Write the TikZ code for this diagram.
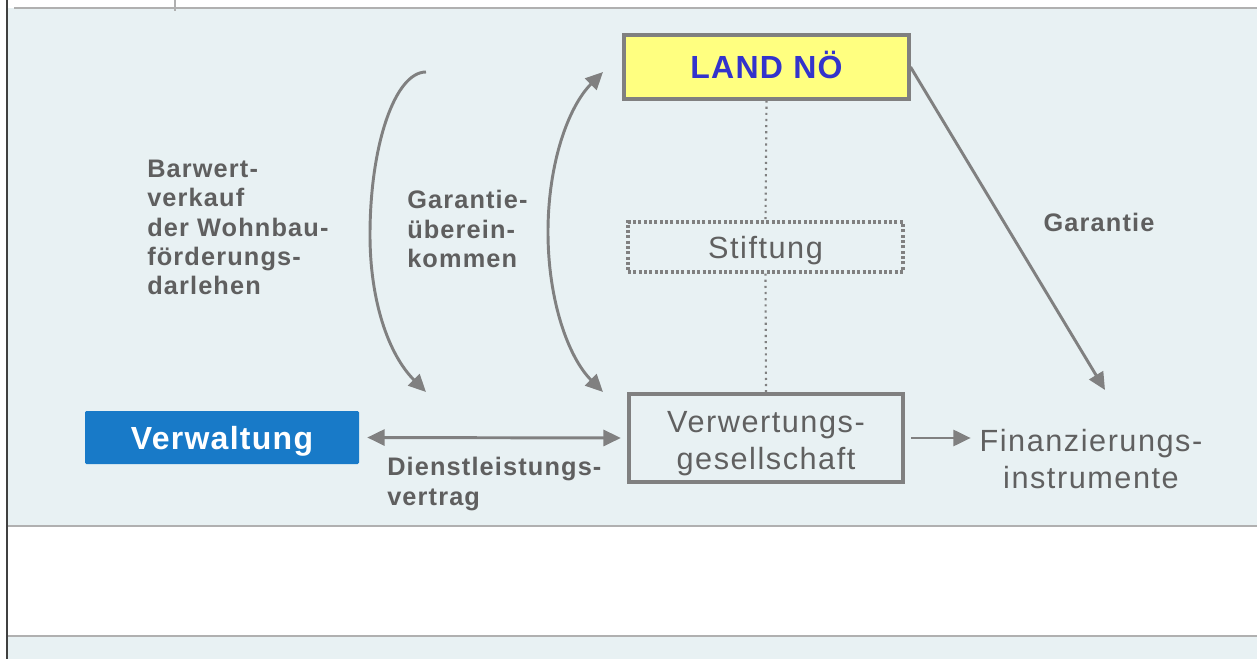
\documentclass[tikz,border=0pt]{standalone}
\usepackage{fontspec}
\setmainfont{Liberation Sans}
\newfontfamily\lblfont[LetterSpace=4.5]{Liberation Sans}
\newfontfamily\regfont[LetterSpace=5]{Liberation Sans}
\newfontfamily\headfont[LetterSpace=4]{Liberation Sans}
\usetikzlibrary{arrows.meta}
\definecolor{bgc}{RGB}{232,241,243}
\definecolor{framec}{RGB}{176,176,176}
\definecolor{leftc}{RGB}{64,64,64}
\definecolor{arrc}{RGB}{128,128,128}
\definecolor{lblc}{RGB}{95,95,95}
\definecolor{regc}{RGB}{96,96,96}
\definecolor{bluebox}{RGB}{24,122,200}
\definecolor{yelbox}{RGB}{255,255,128}
\definecolor{landtxt}{RGB}{51,51,204}
\tikzset{
  lbl/.style={inner sep=0pt, align=left, text=lblc, font=\lblfont\bfseries\fontsize{19}{22}\selectfont},
  regtxt/.style={inner sep=0pt, align=center, text=regc, font=\regfont\fontsize{23}{27.75}\selectfont},
  graybox/.style={draw=arrc, line width=2.3pt, inner sep=0pt},
  conn/.style={draw=arrc, line width=2.2pt},
  tip/.style={-{Triangle[length=13pt,width=12pt]}},
  dtip/.style={{Triangle[length=13pt,width=12pt]}-{Triangle[length=13pt,width=12pt]}},
  dotc/.style={draw=arrc, line width=1.6pt, dash pattern=on 1.6pt off 3pt},
}
\begin{document}
\begin{tikzpicture}[x=0.75pt,y=-0.75pt]
\useasboundingbox (0,0) rectangle (1257,659);
% background
\fill[white] (0,0) rectangle (1257,659);
\fill[bgc] (8,8) rectangle (1257,526);
\fill[bgc] (8,637) rectangle (1257,659);
\draw[framec, line width=1.5pt] (14,8) -- (1257,8);
\draw[framec, line width=1.5pt] (175,0) -- (175,11);
\draw[framec, line width=1.5pt] (8,526) -- (1257,526);
\draw[framec, line width=1.5pt] (8,636) -- (1257,636);
\draw[leftc, line width=1.5pt] (7,0) -- (7,659);

% nodes
\node[graybox, fill=yelbox, minimum width=213.75pt, minimum height=48pt,
      text height=17.2pt, text depth=0pt,
      text=landtxt, font=\headfont\bfseries\fontsize{24}{28}\selectfont] (land) at (766.5,67) {LAND NÖ};
\node[draw=arrc, line width=2.4pt, dash pattern=on 2.2pt off 1.8pt, inner sep=0pt,
      minimum width=206.25pt, minimum height=37.5pt, text depth=0pt,
      text=regc, font=\regfont\fontsize{23}{27.75}\selectfont] (stift) at (765.5,247) {Stiftung};
\node[graybox, minimum width=205.5pt, minimum height=66pt, align=center,
      text height=46.5pt, text depth=0pt,
      text=regc, font=\regfont\fontsize{23}{27.75}\selectfont] (verw) at (766,438) {Verwertungs-\\gesellschaft};
\node[fill=bluebox, rounded corners=1pt, minimum width=205.5pt, minimum height=39.75pt, inner sep=0pt,
      text depth=0pt,
      text=white, font=\headfont\bfseries\fontsize{24}{28}\selectfont] (vwalt) at (222,437.5) {Verwaltung};
\node[regtxt] (finanz) at (1091,459) {Finanzierungs-\\instrumente};

\node[lbl, anchor=west] (barwert) at (147,227.5) {Barwert-\\verkauf\\der Wohnbau-\\förderungs-\\darlehen};
\node[lbl, anchor=west] (gue) at (407,229) {Garantie-\\überein-\\kommen};
\node[lbl] (gar) at (1099,222) {Garantie};
\node[lbl, anchor=west] (dienst) at (387,484) {Dienstleistungs-\\vertrag};

% curve endpoints
\coordinate (c1s) at (426,72);
\coordinate (c1m) at (370,235);
\coordinate (c1e) at (426,392);
\coordinate (c2s) at (603,392);
\coordinate (c2m) at (548,232);
\coordinate (c2e) at (603,72);
\coordinate (garend) at (1105,390);

% connectors
\draw[conn, tip] (c1s) .. controls (395,72) and (370,145) .. (c1m)
                       .. controls (370,300) and (388,354) .. (c1e);
\draw[conn, dtip] (c2s) .. controls (568,357) and (548,300) .. (c2m)
                        .. controls (548,164) and (568,107) .. (c2e);
\draw[dotc] (land.south) -- (stift.north);
\draw[dotc] (stift.south) -- (verw.north);
\draw[conn, tip] (land.east) -- (garend);
\draw[conn, dtip] ([xshift=6pt]vwalt.east) -- ([xshift=-5pt]verw.west);
\draw[conn, tip] ([xshift=5pt]verw.east) -- ([xshift=-6.5pt]finanz.west |- verw.east);
\end{tikzpicture}
\end{document}
